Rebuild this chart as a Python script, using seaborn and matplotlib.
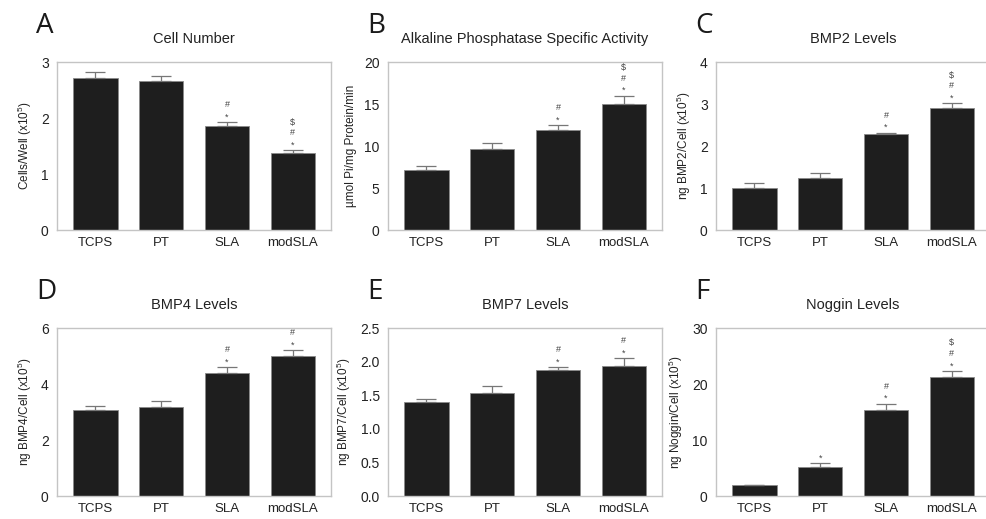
import matplotlib
matplotlib.use("Agg")
import matplotlib.pyplot as plt
import seaborn as sns
import pandas as pd
import numpy as np

categories = ["TCPS", "PT", "SLA", "modSLA"]

cell_vals = [2.72, 2.66, 1.86, 1.37]
cell_err = [0.10, 0.09, 0.07, 0.05]
cell_sig = ["", "", "*#", "*#$"]

alp_vals = [7.15, 9.7, 11.9, 15.05]
alp_err = [0.45, 0.6, 0.55, 0.95]
alp_sig = ["", "", "*#", "*#$"]

bmp2_vals = [1.0, 1.25, 2.28, 2.9]
bmp2_err = [0.11, 0.11, 0.04, 0.12]
bmp2_sig = ["", "", "*#", "*#$"]

bmp4_vals = [3.08, 3.19, 4.39, 5.0]
bmp4_err = [0.12, 0.21, 0.2, 0.22]
bmp4_sig = ["", "", "*#", "*#"]

bmp7_vals = [1.40, 1.54, 1.87, 1.93]
bmp7_err = [0.05, 0.09, 0.05, 0.12]
bmp7_sig = ["", "", "*#", "*#"]

nog_vals = [1.9, 5.26, 15.4, 21.3]
nog_err = [0.1, 0.55, 1.1, 1.05]
nog_sig = ["", "*", "*#", "*#$"]

titles = ["Cell Number", "Alkaline Phosphatase Specific Activity", "BMP2 Levels",
          "BMP4 Levels", "BMP7 Levels", "Noggin Levels"]
ylabels = [r"Cells/Well (x10$^5$)", "\u00b5mol Pi/mg Protein/min",
           r"ng BMP2/Cell (x10$^5$)", r"ng BMP4/Cell (x10$^5$)",
           r"ng BMP7/Cell (x10$^5$)", r"ng Noggin/Cell (x10$^5$)"]
letters = ["A", "B", "C", "D", "E", "F"]
yticks = [[0, 1, 2, 3], [0, 5, 10, 15, 20], [0, 1, 2, 3, 4],
          [0, 2, 4, 6], [0.0, 0.5, 1.0, 1.5, 2.0, 2.5], [0, 10, 20, 30]]
ytick_labels = [["0", "1", "2", "3"], ["0", "5", "10", "15", "20"],
                ["0", "1", "2", "3", "4"], ["0", "2", "4", "6"],
                ["0.0", "0.5", "1.0", "1.5", "2.0", "2.5"], ["0", "10", "20", "30"]]

panels = [(cell_vals, cell_err, cell_sig), (alp_vals, alp_err, alp_sig),
          (bmp2_vals, bmp2_err, bmp2_sig), (bmp4_vals, bmp4_err, bmp4_sig),
          (bmp7_vals, bmp7_err, bmp7_sig), (nog_vals, nog_err, nog_sig)]

sns.set_theme(style="white")
plt.rcParams["font.family"] = ["Liberation Sans", "DejaVu Sans"]
plt.rcParams["mathtext.fontset"] = "custom"
plt.rcParams["mathtext.rm"] = "Liberation Sans"
plt.rcParams["mathtext.it"] = "Liberation Sans:italic"

fig = plt.figure(figsize=(9.87, 5.19), dpi=100)

W, H = 987, 519
lefts = [57, 388, 716]
tops = [62, 328]
aw, ah = 274, 168

for idx, (vals, errs, sigs) in enumerate(panels):
    r, c = divmod(idx, 3)
    l = lefts[c]
    t = tops[r]
    ax = fig.add_axes([l / W, 1 - (t + ah) / H, aw / W, ah / H])
    df = pd.DataFrame({"cat": categories, "val": vals})
    sns.barplot(data=df, x="cat", y="val", ax=ax, color="#1e1e1e",
                edgecolor="#8a8a8a", linewidth=0.6, width=0.67,
                errorbar=None, saturation=1)
    xs = np.arange(len(categories))
    ax.errorbar(xs, vals, yerr=[np.zeros(len(vals)), errs], fmt="none",
                ecolor="#777777", elinewidth=0.9, capsize=7, capthick=0.9)
    for i, (v, e, s) in enumerate(zip(vals, errs, sigs)):
        for k, sym in enumerate(s):
            off = 5.0 + k * 7.6 if sym != "*" else 3.6
            ax.annotate(sym, xy=(i, v + e), xytext=(0, off),
                        textcoords="offset points", ha="center", va="center",
                        fontsize=6.5, color="#444444")
    ax.set_xlim(-0.585, 3.58)
    ax.set_ylim(yticks[idx][0], yticks[idx][-1])
    ax.set_yticks(yticks[idx])
    ax.set_yticklabels(ytick_labels[idx])
    ax.set_xlabel("")
    ax.set_ylabel(ylabels[idx], fontsize=8.5, color="#222222", labelpad=5)
    ax.tick_params(axis="x", length=0, labelsize=9.5, colors="#222222", pad=5)
    ax.tick_params(axis="y", length=0, labelsize=10, colors="#222222", pad=6)
    for sp in ax.spines.values():
        sp.set_color("#c4c4c4")
        sp.set_linewidth(1.0)
        sp.set_visible(True)
    ax.set_title(titles[idx], fontsize=10.5, color="#222222", pad=14)
    fig.text((l - 21) / W, 1 - (t - 29) / H, letters[idx], fontsize=20,
             family=["Open Sans", "DejaVu Sans"], color="#1a1a1a",
             ha="left", va="baseline")

fig.savefig("out.png", dpi=100)
